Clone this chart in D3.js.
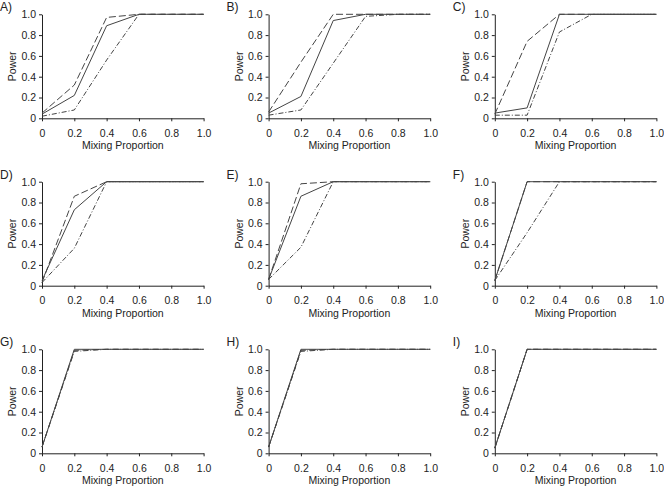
<!DOCTYPE html>
<html lang="en">

<head>
  <meta charset="UTF-8">
  <title>Power vs mixing proportion</title>
  <script src="https://cdn.jsdelivr.net/npm/d3@7.6.1/dist/d3.min.js"></script>
  <style>
    body { margin: 0; background: #fff; }
    svg { display: block; font-family: "Liberation Sans", Arial, sans-serif; }
  </style>
</head>

<body>
  <div id="chart"></div>
  <script>
    const width = 664
    const height = 489

    // mixing proportions on the x axis
    const proportions = [0, 0.2, 0.4, 0.6, 0.8, 1.0]
    const xTicks = [0, 0.2, 0.4, 0.6, 0.8, 1.0]
    const yTicks = [0, 0.2, 0.4, 0.6, 0.8, 1.0]
    const panelLabels = ['A)', 'B)', 'C)', 'D)', 'E)', 'F)', 'G)', 'H)', 'I)']

    // power per panel, one array per line style
    const solidSeries = [
      [0.04, 0.22, 0.89, 1.0, 1.0, 1.0],
      [0.05, 0.21, 0.94, 1.0, 1.0, 1.0],
      [0.05, 0.10, 1.0, 1.0, 1.0, 1.0],
      [0.05, 0.73, 1.0, 1.0, 1.0, 1.0],
      [0.06, 0.86, 1.0, 1.0, 1.0, 1.0],
      [0.05, 1.0, 1.0, 1.0, 1.0, 1.0],
      [0.06, 1.0, 1.0, 1.0, 1.0, 1.0],
      [0.06, 1.0, 1.0, 1.0, 1.0, 1.0],
      [0.05, 1.0, 1.0, 1.0, 1.0, 1.0]
    ]
    const dashedSeries = [
      [0.05, 0.32, 0.97, 1.0, 1.0, 1.0],
      [0.06, 0.54, 1.0, 1.0, 1.0, 1.0],
      [0.04, 0.74, 1.0, 1.0, 1.0, 1.0],
      [0.03, 0.86, 1.0, 1.0, 1.0, 1.0],
      [0.06, 0.98, 1.0, 1.0, 1.0, 1.0],
      [0.05, 1.0, 1.0, 1.0, 1.0, 1.0],
      [0.06, 0.99, 1.0, 1.0, 1.0, 1.0],
      [0.06, 0.99, 1.0, 1.0, 1.0, 1.0],
      [0.05, 1.0, 1.0, 1.0, 1.0, 1.0]
    ]
    const dashDotSeries = [
      [0.02, 0.08, 0.56, 1.0, 1.0, 1.0],
      [0.03, 0.08, 0.53, 0.98, 1.0, 1.0],
      [0.03, 0.03, 0.83, 1.0, 1.0, 1.0],
      [0.03, 0.36, 1.0, 1.0, 1.0, 1.0],
      [0.06, 0.37, 1.0, 1.0, 1.0, 1.0],
      [0.05, 0.51, 1.0, 1.0, 1.0, 1.0],
      [0.06, 0.98, 1.0, 1.0, 1.0, 1.0],
      [0.06, 0.98, 1.0, 1.0, 1.0, 1.0],
      [0.05, 1.0, 1.0, 1.0, 1.0, 1.0]
    ]

    // layout of the 3x3 grid
    const colX = [42, 268.6, 494.8]
    const rowY = [14.3, 181.7, 349.3]
    const plotW = 161.6
    const plotH = 104

    const x = d3.scaleLinear().domain([0, 1]).range([0, plotW])
    const y = d3.scaleLinear().domain([0, 1]).range([plotH, 0])

    const lineStyles = [
      { data: dashDotSeries, dash: '5,2,1,2' },
      { data: dashedSeries, dash: '7,3' },
      { data: solidSeries, dash: null }
    ]

    const line = d3.line()
      .x((d, i) => x(proportions[i]))
      .y(d => y(d))

    const svg = d3.select('#chart').append('svg')
      .attr('width', width)
      .attr('height', height)

    const fmt = d => d === 0 ? '0' : d3.format('.1f')(d)

    panelLabels.forEach((label, p) => {
      const g = svg.append('g')
        .attr('transform', `translate(${colX[p % 3]},${rowY[Math.floor(p / 3)]})`)

      // x axis
      const xa = g.append('g')
        .attr('transform', `translate(0,${plotH})`)
        .call(d3.axisBottom(x).tickValues(xTicks).tickFormat(fmt).tickSize(3).tickPadding(8).tickSizeOuter(0))
      // y axis
      const ya = g.append('g')
        .call(d3.axisLeft(y).tickValues(yTicks).tickFormat(fmt).tickSize(3).tickPadding(3).tickSizeOuter(0))

      g.selectAll('.domain').attr('stroke', '#222')
      g.selectAll('.tick line').attr('stroke', '#222')
      g.selectAll('.tick text')
        .attr('font-size', 10.5)
        .attr('fill', '#222')
        .attr('font-family', '"Liberation Sans", Arial, sans-serif')

      // series lines
      lineStyles.forEach(s => {
        g.append('path')
          .datum(s.data[p])
          .attr('d', line)
          .attr('fill', 'none')
          .attr('stroke', '#444')
          .attr('stroke-width', 1)
          .attr('stroke-dasharray', s.dash)
      })

      // titles
      g.append('text')
        .attr('x', plotW / 2)
        .attr('y', plotH + 31)
        .attr('text-anchor', 'middle')
        .attr('font-size', 10.5)
        .attr('fill', '#222')
        .text('Mixing Proportion')

      g.append('text')
        .attr('transform', `translate(-26,${plotH / 2}) rotate(-90)`)
        .attr('text-anchor', 'middle')
        .attr('font-size', 10.5)
        .attr('fill', '#222')
        .text('Power')

      g.append('text')
        .attr('x', -42)
        .attr('y', -3)
        .attr('font-size', 12)
        .attr('fill', '#222')
        .text(label)
    })
  </script>
</body>

</html>
